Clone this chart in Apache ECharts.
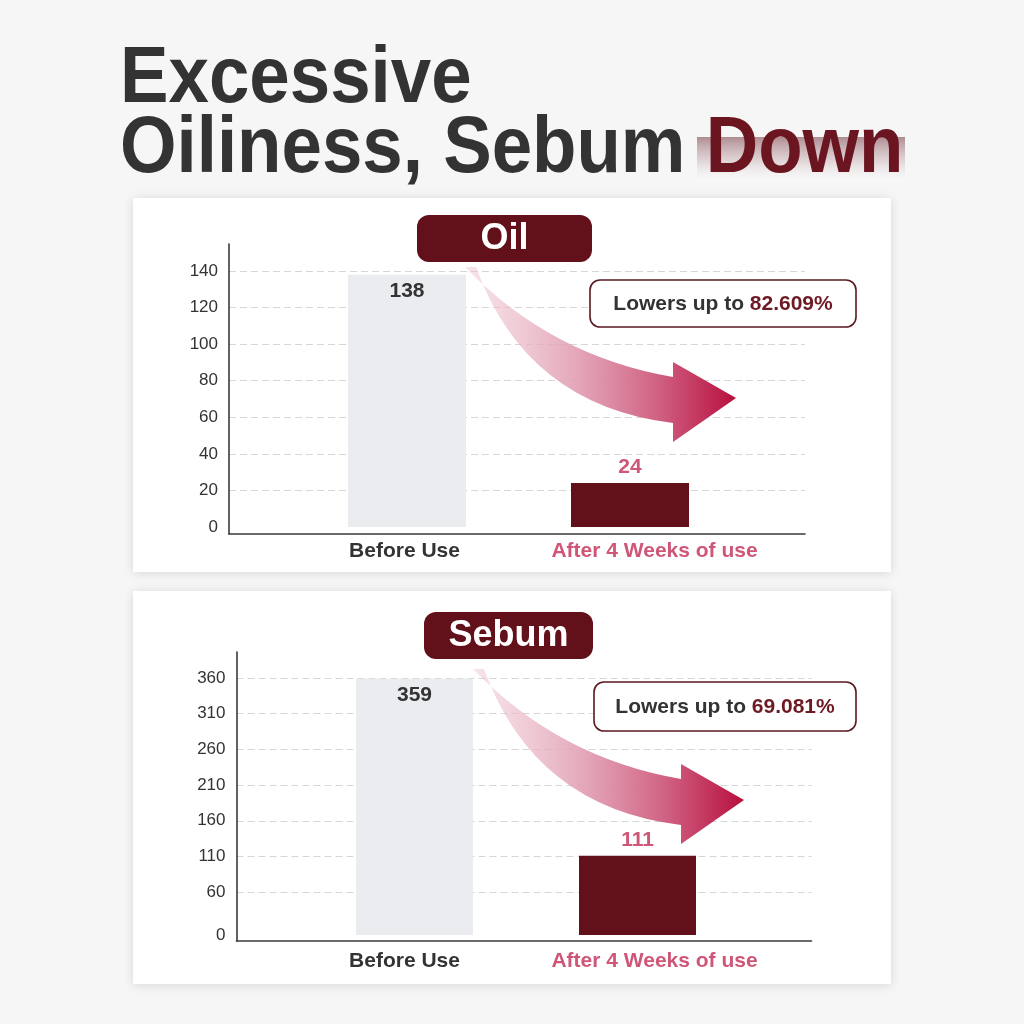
<!DOCTYPE html>
<html>
<head>
<meta charset="utf-8">
<script src="https://cdn.jsdelivr.net/npm/echarts@6/dist/echarts.min.js"></script>
<style>
html,body{margin:0;padding:0;background:#f6f6f6;}
#chart{width:1024px;height:1024px;}
</style>
</head>
<body>
<div id="chart"></div>
<script>
// ---- data ----
const titleLine1 = 'Excessive';
const titleLine2 = 'Oiliness, Sebum ';
const titleHighlight = 'Down';
const categories = ['Before Use', 'After 4 Weeks of use'];
const oilName = 'Oil';
const oilValues = [138, 24];
const oilTicks = [0, 20, 40, 60, 80, 100, 120, 140];
const oilReduction = '82.609%';
const sebumName = 'Sebum';
const sebumValues = [359, 111];
const sebumTicks = [0, 60, 110, 160, 210, 260, 310, 360];
const sebumReduction = '69.081%';
const reductionText = 'Lowers up to ';

// ---- styles ----
const DARK = '#62101a';
const PINK = '#cf5677';
const TEXT = '#333333';
const FONT = '"Liberation Sans", Arial, sans-serif';

// decorative curved arrow shape
const ArrowShape = echarts.graphic.extendPath(
  'M465 267 Q551 356 673 377 L673 362 L736 398 L673 442 L673 423 Q526 405 476 267 Z', {});
echarts.graphic.registerShape('curvedArrow', ArrowShape);

const chart = echarts.init(document.getElementById('chart'));

function panel(p) {
  const grids = [
    { left: p.frame.left, top: p.frame.top, width: p.frame.width, height: p.frame.height },
    { left: p.main.left, top: p.main.top, width: p.main.width, height: p.main.height },
    { left: p.bars.left, top: p.bars.top, width: p.bars.width, height: p.bars.height }
  ];
  const g0 = p.gi;
  const xAxes = [
    { gridIndex: g0, type: 'category', data: [''],
      axisLine: { show: true, lineStyle: { color: '#3a3a3a', width: 1.6 } },
      axisTick: { show: false }, axisLabel: { show: false }, splitLine: { show: false } },
    { gridIndex: g0 + 1, type: 'category', data: [''], show: false },
    { gridIndex: g0 + 2, type: 'category', data: categories.map((c, i) => ({
        value: c,
        textStyle: { color: i === 0 ? TEXT : PINK, padding: p.labelPad[i] }
      })),
      axisLine: { show: false }, axisTick: { show: false },
      axisLabel: { fontSize: 21, fontWeight: 'bold', fontFamily: FONT, margin: p.labelMargin, interval: 0 } }
  ];
  const ticks = p.ticks;
  const yAxes = [
    { gridIndex: g0, type: 'value', min: 0, max: 1,
      axisLine: { show: true, lineStyle: { color: '#3a3a3a', width: 1.6 } },
      axisTick: { show: false }, axisLabel: { show: false }, splitLine: { show: false } },
    { gridIndex: g0 + 1, type: 'value', min: ticks[0], max: ticks[ticks.length - 1],
      axisLine: { show: false },
      axisTick: { show: false, customValues: ticks },
      axisLabel: { customValues: ticks, fontSize: 17, color: TEXT, fontFamily: FONT, margin: 11 },
      splitLine: { show: true, showMinLine: false, lineStyle: { color: '#d6d6d6', type: [7, 4], width: 1 } } },
    { gridIndex: g0 + 2, type: 'value', min: ticks[0], max: ticks[ticks.length - 1], show: false }
  ];
  const series = [{
    type: 'bar', xAxisIndex: g0 + 2, yAxisIndex: g0 + 2,
    barWidth: p.barWidth,
    z: 3,
    label: { show: true, fontSize: 21, fontWeight: 'bold', fontFamily: FONT },
    data: p.values.map((v, i) => ({
      value: v,
      itemStyle: { color: i === 0 ? '#ebecf0' : DARK },
      label: i === 0 ? { position: 'insideTop', color: TEXT, distance: 6 } : { position: 'top', color: PINK, distance: 5 }
    }))
  }];
  return { grids, xAxes, yAxes, series };
}

const oilPanel = panel({
  gi: 0,
  frame: { left: 229, top: 244, width: 576, height: 290 },
  main: { left: 229, top: 271, width: 576, height: 256 },
  bars: { left: 295.5, top: 271, width: 446, height: 256 },
  ticks: oilTicks, values: oilValues, barWidth: 118,
  labelPad: [[0, 5, 0, 0], [0, 0, 0, 49]], labelMargin: 14
});
const sebumPanel = panel({
  gi: 3,
  frame: { left: 236.5, top: 652, width: 575, height: 289 },
  main: { left: 236.5, top: 678, width: 575, height: 257 },
  bars: { left: 303, top: 678, width: 446, height: 257 },
  ticks: sebumTicks, values: sebumValues, barWidth: 117,
  labelPad: [[0, 20, 0, 0], [0, 0, 0, 34]], labelMargin: 16
});

function arrow(dx, dy) {
  return {
    type: 'curvedArrow', x: dx, y: dy, z: 20,
    style: {
      fill: new echarts.graphic.LinearGradient(0, 0, 1, 0, [
        { offset: 0, color: 'rgba(238,196,208,0.45)' },
        { offset: 0.4, color: 'rgba(226,160,180,0.9)' },
        { offset: 0.72, color: '#cf5f80' },
        { offset: 1, color: '#b80f3e' }
      ])
    }
  };
}
function badge(x, y, w, h, text) {
  return [
    { type: 'rect', z: 20, shape: { x, y, width: w, height: h, r: 12 }, style: { fill: DARK } },
    { type: 'text', z: 21, x: x + w / 2, y: y + h / 2 + 1,
      style: { text, fill: '#fff', font: 'bold 36px ' + FONT, align: 'center', verticalAlign: 'middle' } }
  ];
}
function callout(x, y, w, h, pct) {
  return [
    { type: 'rect', z: 20, shape: { x, y, width: w, height: h, r: 10 },
      style: { fill: '#fff', stroke: '#5a1a22', lineWidth: 1.6 } },
    { type: 'text', z: 21, x: x + w / 2, y: y + h / 2 + 1,
      style: { text: '{a|' + reductionText + '}{b|' + pct + '}', align: 'center', verticalAlign: 'middle',
        rich: {
          a: { fontSize: 21, fontWeight: 'bold', fontFamily: FONT, fill: TEXT, color: TEXT },
          b: { fontSize: 21, fontWeight: 'bold', fontFamily: FONT, fill: '#6e1a25', color: '#6e1a25' }
        } } }
  ];
}

const graphics = [
  { type: 'rect', z: -10, shape: { x: 133, y: 198, width: 758, height: 374 },
    style: { fill: '#fff', shadowBlur: 10, shadowColor: 'rgba(0,0,0,0.13)', shadowOffsetY: 1 } },
  { type: 'rect', z: -10, shape: { x: 133, y: 591, width: 758, height: 393 },
    style: { fill: '#fff', shadowBlur: 10, shadowColor: 'rgba(0,0,0,0.13)', shadowOffsetY: 1 } },
  { type: 'rect', z: -5, shape: { x: 697, y: 137, width: 208, height: 45 },
    style: { fill: new echarts.graphic.LinearGradient(0, 0, 0, 1, [
      { offset: 0, color: 'rgba(150,105,112,0.75)' },
      { offset: 0.55, color: 'rgba(200,175,180,0.45)' },
      { offset: 1, color: 'rgba(255,255,255,0.1)' }
    ]) } },
  { type: 'text', z: 0, x: 120, y: 80, scaleX: 0.92,
    style: { text: titleLine1, font: 'bold 79px ' + FONT, fill: TEXT, verticalAlign: 'middle' } },
  { type: 'text', z: 0, x: 120, y: 150, scaleX: 0.92,
    style: { text: '{a|' + titleLine2 + '}{b|' + titleHighlight + '}', verticalAlign: 'middle',
      rich: {
        a: { fontSize: 79, fontWeight: 'bold', fontFamily: FONT, color: TEXT, fill: TEXT },
        b: { fontSize: 79, fontWeight: 'bold', fontFamily: FONT, color: '#6b1520', fill: '#6b1520' }
      } } },
  arrow(0, 0),
  arrow(8, 402),
  ...badge(417, 215, 175, 47, oilName),
  ...badge(424, 612, 169, 47, sebumName),
  ...callout(590, 280, 266, 47, oilReduction),
  ...callout(594, 682, 262, 49, sebumReduction)
];

chart.setOption({
  backgroundColor: '#f6f6f6',
  animation: false,
  grid: [...oilPanel.grids, ...sebumPanel.grids],
  xAxis: [...oilPanel.xAxes, ...sebumPanel.xAxes],
  yAxis: [...oilPanel.yAxes, ...sebumPanel.yAxes],
  series: [...oilPanel.series, ...sebumPanel.series],
  graphic: graphics
});
</script>
</body>
</html>
